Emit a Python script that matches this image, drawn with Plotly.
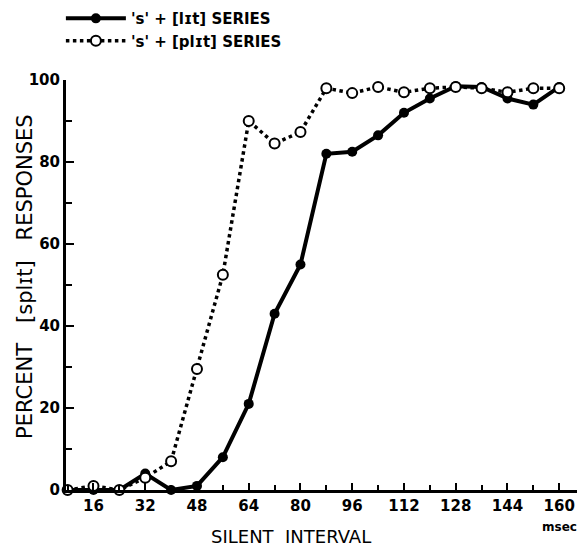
import plotly.graph_objects as go

# Silent interval (msec)
interval = [8, 16, 24, 32, 40, 48, 56, 64, 72, 80, 88, 96, 104, 112, 120, 128, 136, 144, 152, 160]
# 's' + [lɪt] series (percent [splɪt] responses)
lit_series = [0, 0, 0, 4, 0, 1, 8, 21, 43, 55, 82, 82.5, 86.5, 92, 95.5, 98.5, 98.3, 95.5, 94, 98.3]
# 's' + [plɪt] series
plit_series = [0, 1, 0, 3, 7, 29.5, 52.5, 90, 84.5, 87.3, 98, 96.8, 98.3, 97, 98, 98.3, 98, 97, 98, 98]

x_ticks = [16, 32, 48, 64, 80, 96, 112, 128, 144, 160]
y_ticks = [0, 20, 40, 60, 80, 100]

FONT = "DejaVu Sans"

fig = go.Figure()
fig.add_trace(go.Scatter(
    x=interval, y=lit_series, mode="lines+markers",
    name="'s' + [lɪt] SERIES",
    line=dict(color="black", width=4),
    marker=dict(symbol="circle", size=10, color="black"),
    cliponaxis=False,
))
fig.add_trace(go.Scatter(
    x=interval, y=plit_series, mode="lines+markers",
    name="'s' + [plɪt] SERIES",
    line=dict(color="black", width=3.5, dash="dot"),
    marker=dict(symbol="circle", size=10, color="white", line=dict(color="black", width=2)),
    cliponaxis=False,
))

fig.update_layout(
    width=577, height=548,
    margin=dict(l=66, r=0, t=80, b=58),
    paper_bgcolor="white", plot_bgcolor="white",
    font=dict(family=FONT, color="black", size=15),
    showlegend=True,
    legend=dict(
        x=-0.01, y=1.19, xanchor="left", yanchor="top",
        bgcolor="rgba(0,0,0,0)", tracegroupgap=0,
        font=dict(family=FONT, size=15, color="black", weight="bold"),
        itemwidth=60,
    ),
    xaxis=dict(
        range=[7.5, 165.5], showgrid=False, zeroline=False,
        showline=True, linecolor="black", linewidth=3,
        tickmode="array", tickvals=x_ticks, ticktext=[str(v) for v in x_ticks],
        ticks="inside", ticklen=7, tickwidth=2, tickcolor="black",
        minor=dict(ticks="inside", ticklen=5, tickwidth=2, tickcolor="black", dtick=8, tick0=0),
        tickfont=dict(family=FONT, size=15, color="black", weight="bold"),
    ),
    yaxis=dict(
        range=[0, 100], showgrid=False, zeroline=False,
        showline=True, linecolor="black", linewidth=3,
        tickmode="array", tickvals=y_ticks, ticktext=[str(v) for v in y_ticks],
        ticks="inside", ticklen=8, tickwidth=2, tickcolor="black",
        minor=dict(ticks="inside", ticklen=6, tickwidth=2, tickcolor="black", dtick=10, tick0=0),
        tickfont=dict(family=FONT, size=15, color="black", weight="bold"),
    ),
    annotations=[
        dict(text="SILENT  INTERVAL", x=77, y=0, xref="x", yref="y",
             yshift=-46, showarrow=False,
             font=dict(family=FONT, size=18, color="black")),
        dict(text="msec", x=160, y=0, xref="x", yref="y",
             yshift=-37, showarrow=False,
             font=dict(family=FONT, size=12, color="black", weight="bold")),
        dict(text="PERCENT   [splɪt]   RESPONSES", x=-0.08, y=52, xref="paper", yref="y",
             xanchor="center", yanchor="middle",
             textangle=-90, showarrow=False,
             font=dict(family=FONT, size=21, color="black")),
    ],
)

fig.write_html("out.html", config={"displayModeBar": False})

# remove the default page margin so the figure sits at the window's top-left corner
with open("out.html", "r", encoding="utf-8") as f:
    html = f.read()
html = html.replace("<head>", "<head><style>html,body{margin:0;padding:0;overflow:hidden;}</style>", 1)
with open("out.html", "w", encoding="utf-8") as f:
    f.write(html)
